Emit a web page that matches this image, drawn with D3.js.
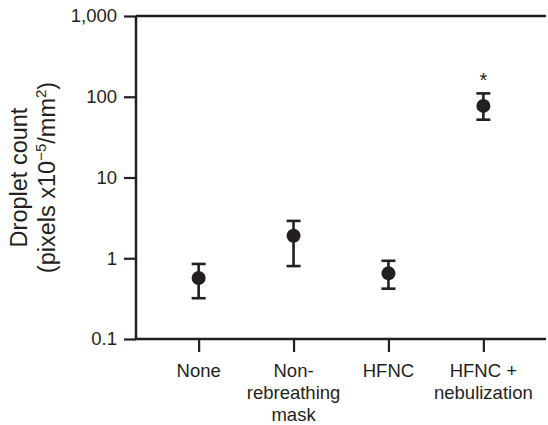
<!DOCTYPE html>
<html>
<head>
<meta charset="utf-8">
<script src="https://cdn.jsdelivr.net/npm/d3@7"></script>
<style>
  body { margin: 0; background: #fff; }
  text { font-family: "Liberation Sans", Arial, sans-serif; fill: #231f20; }
</style>
</head>
<body>
<div id="chart"></div>
<script>
// groups on the x axis (each may be several lines)
var groups = ["None", "Non-rebreathing mask", "HFNC", "HFNC + nebulization"];
var groupLines = [["None"], ["Non-", "rebreathing", "mask"], ["HFNC"], ["HFNC +", "nebulization"]];
// droplet count, pixels x10^-5 / mm^2
var means = [0.57, 1.9, 0.65, 77];
var lower = [0.32, 0.8, 0.42, 52];
var upper = [0.85, 2.9, 0.93, 110];
var significant = [false, false, false, true];
var yTicks = [0.1, 1, 10, 100, 1000];

var width = 548, height = 425;
var margin = {top: 16, right: 2, bottom: 86, left: 136};
var ink = "#231f20";

var svg = d3.select("#chart").append("svg")
    .attr("width", width)
    .attr("height", height);

var x = d3.scalePoint()
    .domain(groups)
    .range([margin.left, width - margin.right])
    .padding(0.66);

var y = d3.scaleLog()
    .domain([0.1, 1000])
    .range([height - margin.bottom, margin.top]);

var fmt = d3.format(",");

// y axis
var yAxis = svg.append("g")
    .attr("transform", "translate(" + margin.left + ",0)")
    .call(d3.axisLeft(y).tickValues(yTicks).tickSize(12).tickPadding(7)
      .tickFormat(function(d) { return d < 1 ? d3.format(".1f")(d) : fmt(d); }));

// x axis
var xAxis = svg.append("g")
    .attr("transform", "translate(0," + (height - margin.bottom) + ")")
    .call(d3.axisBottom(x).tickSize(13).tickFormat(""));

[yAxis, xAxis].forEach(function(ax) {
  ax.select(".domain").remove();
  ax.selectAll(".tick line").attr("stroke", ink).attr("stroke-width", 2.2);
});
yAxis.selectAll(".tick text").attr("font-size", 18.5).attr("fill", ink)
    .style("font-family", "'Liberation Sans', Arial, sans-serif");

// axis lines + top frame line
svg.append("line")
    .attr("x1", margin.left).attr("x2", margin.left)
    .attr("y1", y(1000)).attr("y2", y(0.1))
    .attr("stroke", ink).attr("stroke-width", 2.5);
svg.append("line")
    .attr("x1", margin.left - 1).attr("x2", width - margin.right)
    .attr("y1", y(0.1)).attr("y2", y(0.1))
    .attr("stroke", ink).attr("stroke-width", 2.5);
svg.append("line")
    .attr("x1", margin.left).attr("x2", width - margin.right)
    .attr("y1", y(1000)).attr("y2", y(1000))
    .attr("stroke", ink).attr("stroke-width", 2.5);

// x labels
svg.append("g").selectAll("text")
    .data(groups)
    .enter().append("text")
    .attr("x", function(d) { return x(d); })
    .attr("y", height - margin.bottom + 38)
    .attr("text-anchor", "middle")
    .attr("font-size", 18.5)
    .each(function(d, i) {
      var t = d3.select(this);
      groupLines[i].forEach(function(line, j) {
        t.append("tspan")
          .attr("x", x(d))
          .attr("dy", j === 0 ? 0 : 22)
          .text(line);
      });
    });

// y label
var yl = svg.append("text")
    .attr("transform", "translate(19," + ((y(1000) + y(0.1)) / 2) + ") rotate(-90)")
    .attr("text-anchor", "middle")
    .attr("font-size", 23.5);
yl.append("tspan").attr("x", 0).attr("dy", "0.35em").text("Droplet count");
var l2 = yl.append("tspan").attr("x", 0).attr("dy", 28);
l2.append("tspan").text("(pixels x10");
l2.append("tspan").attr("font-size", 15).attr("dy", -9).text("\u22125");
l2.append("tspan").attr("dy", 9).text("/mm");
l2.append("tspan").attr("font-size", 15).attr("dy", -9).text("2");
l2.append("tspan").attr("dy", 9).text(")");

// error bars and means
var idx = groups.map(function(d, i) { return i; });
var pts = svg.append("g").selectAll("g")
    .data(idx)
    .enter().append("g");

pts.append("line")
    .attr("x1", function(i) { return x(groups[i]); })
    .attr("x2", function(i) { return x(groups[i]); })
    .attr("y1", function(i) { return y(lower[i]); })
    .attr("y2", function(i) { return y(upper[i]); })
    .attr("stroke", ink).attr("stroke-width", 2.6);

[lower, upper].forEach(function(arr) {
  pts.append("line")
      .attr("x1", function(i) { return x(groups[i]) - 7; })
      .attr("x2", function(i) { return x(groups[i]) + 7; })
      .attr("y1", function(i) { return y(arr[i]); })
      .attr("y2", function(i) { return y(arr[i]); })
      .attr("stroke", ink).attr("stroke-width", 2.6);
});

pts.append("circle")
    .attr("cx", function(i) { return x(groups[i]); })
    .attr("cy", function(i) { return y(means[i]); })
    .attr("r", 7)
    .attr("fill", ink);

pts.filter(function(i) { return significant[i]; })
    .append("text")
    .attr("x", function(i) { return x(groups[i]); })
    .attr("y", function(i) { return y(upper[i]) - 6; })
    .attr("text-anchor", "middle")
    .attr("font-size", 20)
    .text("*");
</script>
</body>
</html>
